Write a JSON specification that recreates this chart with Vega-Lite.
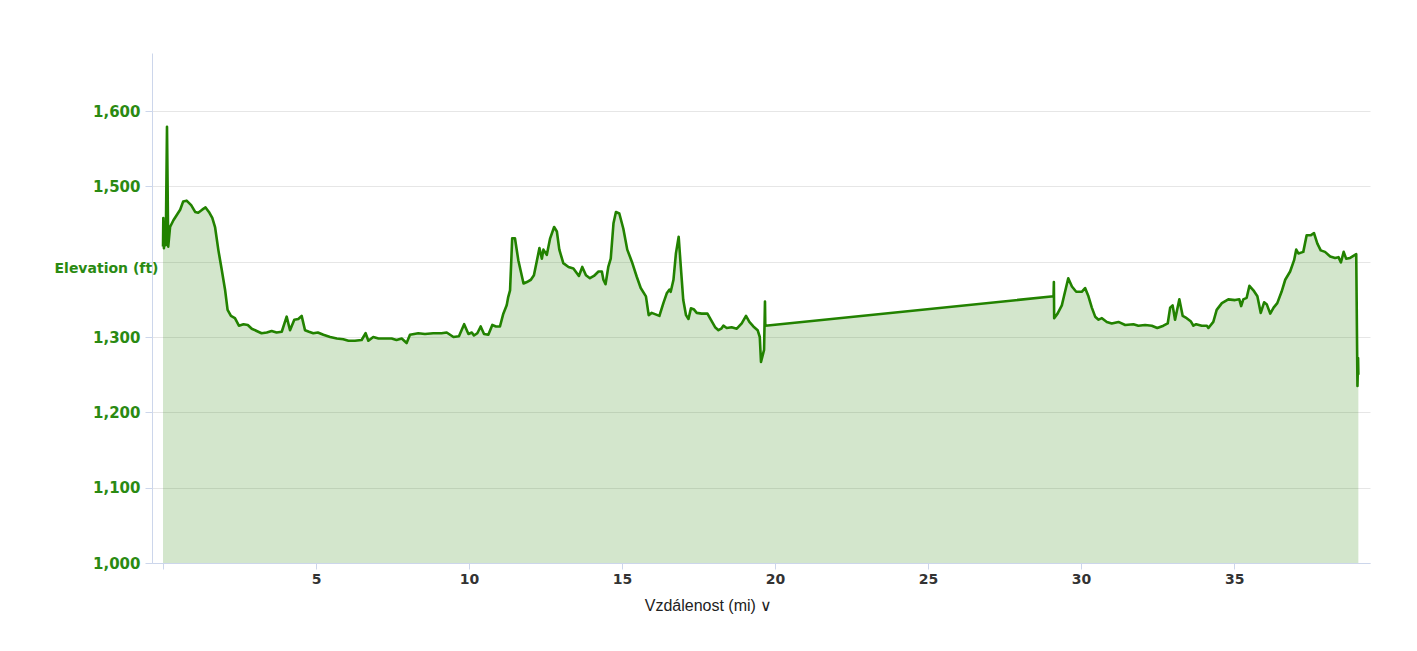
{
  "$schema": "https://vega.github.io/schema/vega-lite/v6.json",
  "description": "Elevation profile along the route.",
  "width": 1218,
  "height": 510,
  "autosize": {"type": "none"},
  "padding": {"left": 152, "top": 53, "right": 47, "bottom": 88},
  "data": {
    "values": [
      {"d": 0.00, "e": 1420}, {"d": 0.01, "e": 1458}, {"d": 0.03, "e": 1418}, {"d": 0.06, "e": 1449},
      {"d": 0.09, "e": 1422}, {"d": 0.13, "e": 1579}, {"d": 0.17, "e": 1420}, {"d": 0.23, "e": 1446},
      {"d": 0.34, "e": 1455}, {"d": 0.45, "e": 1462}, {"d": 0.56, "e": 1469}, {"d": 0.66, "e": 1480},
      {"d": 0.77, "e": 1481}, {"d": 0.92, "e": 1475}, {"d": 1.05, "e": 1466}, {"d": 1.15, "e": 1465},
      {"d": 1.28, "e": 1469}, {"d": 1.39, "e": 1472}, {"d": 1.50, "e": 1466}, {"d": 1.61, "e": 1458},
      {"d": 1.70, "e": 1446}, {"d": 1.81, "e": 1415}, {"d": 1.92, "e": 1389}, {"d": 2.03, "e": 1362},
      {"d": 2.11, "e": 1336}, {"d": 2.22, "e": 1328}, {"d": 2.35, "e": 1325}, {"d": 2.48, "e": 1315},
      {"d": 2.63, "e": 1317}, {"d": 2.77, "e": 1316}, {"d": 2.90, "e": 1311}, {"d": 3.06, "e": 1308},
      {"d": 3.22, "e": 1305}, {"d": 3.39, "e": 1306}, {"d": 3.55, "e": 1308}, {"d": 3.71, "e": 1306},
      {"d": 3.88, "e": 1307}, {"d": 4.04, "e": 1327}, {"d": 4.15, "e": 1309}, {"d": 4.29, "e": 1323},
      {"d": 4.42, "e": 1324}, {"d": 4.53, "e": 1328}, {"d": 4.64, "e": 1309}, {"d": 4.77, "e": 1307},
      {"d": 4.91, "e": 1305}, {"d": 5.06, "e": 1306}, {"d": 5.24, "e": 1303}, {"d": 5.46, "e": 1300},
      {"d": 5.68, "e": 1298}, {"d": 5.89, "e": 1297}, {"d": 6.06, "e": 1295}, {"d": 6.27, "e": 1295},
      {"d": 6.49, "e": 1296}, {"d": 6.62, "e": 1305}, {"d": 6.71, "e": 1295}, {"d": 6.87, "e": 1300},
      {"d": 7.04, "e": 1298}, {"d": 7.25, "e": 1298}, {"d": 7.47, "e": 1298}, {"d": 7.63, "e": 1296},
      {"d": 7.80, "e": 1298}, {"d": 7.96, "e": 1292}, {"d": 8.07, "e": 1303}, {"d": 8.34, "e": 1305},
      {"d": 8.56, "e": 1304}, {"d": 8.83, "e": 1305}, {"d": 9.10, "e": 1305}, {"d": 9.27, "e": 1306},
      {"d": 9.49, "e": 1300}, {"d": 9.67, "e": 1301}, {"d": 9.84, "e": 1317}, {"d": 9.98, "e": 1304},
      {"d": 10.09, "e": 1306}, {"d": 10.16, "e": 1302}, {"d": 10.27, "e": 1305}, {"d": 10.38, "e": 1314},
      {"d": 10.49, "e": 1304}, {"d": 10.63, "e": 1303}, {"d": 10.76, "e": 1316}, {"d": 10.88, "e": 1314},
      {"d": 11.01, "e": 1314}, {"d": 11.12, "e": 1331}, {"d": 11.23, "e": 1342}, {"d": 11.28, "e": 1353},
      {"d": 11.34, "e": 1362}, {"d": 11.41, "e": 1431}, {"d": 11.50, "e": 1431}, {"d": 11.61, "e": 1402},
      {"d": 11.78, "e": 1371}, {"d": 11.89, "e": 1373}, {"d": 12.02, "e": 1376}, {"d": 12.12, "e": 1382},
      {"d": 12.21, "e": 1400}, {"d": 12.30, "e": 1418}, {"d": 12.38, "e": 1404}, {"d": 12.43, "e": 1416},
      {"d": 12.54, "e": 1409}, {"d": 12.65, "e": 1431}, {"d": 12.78, "e": 1446}, {"d": 12.87, "e": 1440},
      {"d": 12.95, "e": 1416}, {"d": 13.08, "e": 1398}, {"d": 13.25, "e": 1393}, {"d": 13.41, "e": 1391},
      {"d": 13.59, "e": 1381}, {"d": 13.70, "e": 1393}, {"d": 13.82, "e": 1382}, {"d": 13.95, "e": 1378},
      {"d": 14.08, "e": 1381}, {"d": 14.23, "e": 1387}, {"d": 14.34, "e": 1387}, {"d": 14.39, "e": 1376},
      {"d": 14.46, "e": 1370}, {"d": 14.55, "e": 1393}, {"d": 14.63, "e": 1404}, {"d": 14.72, "e": 1451},
      {"d": 14.80, "e": 1466}, {"d": 14.91, "e": 1464}, {"d": 15.04, "e": 1444}, {"d": 15.17, "e": 1416},
      {"d": 15.32, "e": 1400}, {"d": 15.48, "e": 1380}, {"d": 15.61, "e": 1365}, {"d": 15.78, "e": 1354},
      {"d": 15.87, "e": 1329}, {"d": 15.97, "e": 1332}, {"d": 16.22, "e": 1328}, {"d": 16.35, "e": 1345},
      {"d": 16.46, "e": 1358}, {"d": 16.55, "e": 1363}, {"d": 16.59, "e": 1360}, {"d": 16.68, "e": 1376},
      {"d": 16.76, "e": 1411}, {"d": 16.85, "e": 1433}, {"d": 16.92, "e": 1393}, {"d": 17.00, "e": 1349},
      {"d": 17.09, "e": 1329}, {"d": 17.17, "e": 1324}, {"d": 17.25, "e": 1338}, {"d": 17.34, "e": 1337},
      {"d": 17.44, "e": 1332}, {"d": 17.60, "e": 1331}, {"d": 17.79, "e": 1331}, {"d": 17.90, "e": 1323},
      {"d": 18.04, "e": 1313}, {"d": 18.15, "e": 1309}, {"d": 18.24, "e": 1311}, {"d": 18.31, "e": 1315},
      {"d": 18.42, "e": 1312}, {"d": 18.58, "e": 1313}, {"d": 18.75, "e": 1311}, {"d": 18.91, "e": 1318},
      {"d": 19.05, "e": 1328}, {"d": 19.16, "e": 1320}, {"d": 19.29, "e": 1314}, {"d": 19.43, "e": 1309},
      {"d": 19.50, "e": 1300}, {"d": 19.54, "e": 1267}, {"d": 19.64, "e": 1283}, {"d": 19.67, "e": 1347},
      {"d": 19.68, "e": 1315}, {"d": 29.10, "e": 1354}, {"d": 29.11, "e": 1373}, {"d": 29.12, "e": 1325},
      {"d": 29.23, "e": 1331}, {"d": 29.37, "e": 1342}, {"d": 29.44, "e": 1354}, {"d": 29.58, "e": 1378},
      {"d": 29.70, "e": 1367}, {"d": 29.84, "e": 1360}, {"d": 30.02, "e": 1360}, {"d": 30.13, "e": 1365},
      {"d": 30.24, "e": 1354}, {"d": 30.35, "e": 1339}, {"d": 30.46, "e": 1327}, {"d": 30.57, "e": 1323},
      {"d": 30.68, "e": 1325}, {"d": 30.84, "e": 1320}, {"d": 31.00, "e": 1318}, {"d": 31.22, "e": 1320},
      {"d": 31.44, "e": 1316}, {"d": 31.71, "e": 1317}, {"d": 31.87, "e": 1315}, {"d": 32.09, "e": 1316},
      {"d": 32.31, "e": 1315}, {"d": 32.49, "e": 1312}, {"d": 32.69, "e": 1315}, {"d": 32.83, "e": 1318},
      {"d": 32.91, "e": 1339}, {"d": 32.99, "e": 1342}, {"d": 33.07, "e": 1323}, {"d": 33.21, "e": 1350},
      {"d": 33.32, "e": 1328}, {"d": 33.45, "e": 1325}, {"d": 33.58, "e": 1321}, {"d": 33.67, "e": 1315},
      {"d": 33.76, "e": 1317}, {"d": 33.94, "e": 1315}, {"d": 34.11, "e": 1315}, {"d": 34.16, "e": 1312},
      {"d": 34.32, "e": 1320}, {"d": 34.43, "e": 1336}, {"d": 34.60, "e": 1345}, {"d": 34.81, "e": 1350},
      {"d": 35.03, "e": 1349}, {"d": 35.17, "e": 1350}, {"d": 35.23, "e": 1341}, {"d": 35.30, "e": 1350},
      {"d": 35.41, "e": 1352}, {"d": 35.50, "e": 1368}, {"d": 35.63, "e": 1362}, {"d": 35.76, "e": 1354},
      {"d": 35.87, "e": 1332}, {"d": 35.98, "e": 1346}, {"d": 36.07, "e": 1343}, {"d": 36.18, "e": 1331},
      {"d": 36.29, "e": 1339}, {"d": 36.41, "e": 1345}, {"d": 36.55, "e": 1360}, {"d": 36.67, "e": 1376},
      {"d": 36.83, "e": 1387}, {"d": 36.96, "e": 1402}, {"d": 37.03, "e": 1416}, {"d": 37.10, "e": 1411},
      {"d": 37.26, "e": 1413}, {"d": 37.37, "e": 1435}, {"d": 37.50, "e": 1435}, {"d": 37.61, "e": 1438},
      {"d": 37.72, "e": 1424}, {"d": 37.83, "e": 1415}, {"d": 37.97, "e": 1413}, {"d": 38.14, "e": 1407},
      {"d": 38.30, "e": 1405}, {"d": 38.41, "e": 1406}, {"d": 38.49, "e": 1399}, {"d": 38.58, "e": 1413},
      {"d": 38.66, "e": 1404}, {"d": 38.79, "e": 1405}, {"d": 38.99, "e": 1410}, {"d": 39.03, "e": 1235},
      {"d": 39.05, "e": 1272}, {"d": 39.06, "e": 1250}
    ]
  },
  "encoding": {
    "x": {
      "field": "d",
      "type": "quantitative",
      "scale": {"domain": [-0.36, 39.44], "nice": false, "zero": false},
      "axis": {
        "values": [0, 5, 10, 15, 20, 25, 30, 35],
        "labelExpr": "datum.value == 0 ? '' : datum.label",
        "grid": false,
        "domainColor": "#ccd6eb",
        "tickColor": "#ccd6eb",
        "tickSize": 6,
        "labelPadding": 3,
        "labelFont": "DejaVu Sans",
        "labelFontWeight": "bold",
        "labelFontSize": 14,
        "labelColor": "#333333",
        "title": "Vzdálenost (mi)  ∨",
        "titleFont": "Liberation Sans",
        "titleFontWeight": "normal",
        "titleFontSize": 16,
        "titleColor": "#222222",
        "titleX": 556,
        "titleY": 42,
        "titleAlign": "center",
        "titleBaseline": "middle"
      }
    },
    "y": {
      "field": "e",
      "type": "quantitative",
      "scale": {"domain": [1000, 1677], "nice": false, "zero": false},
      "axis": {
        "values": [1000, 1100, 1200, 1300, 1400, 1500, 1600],
        "format": ",.0f",
        "labelExpr": "datum.value == 1400 ? '' : datum.label",
        "gridColor": "#e6e6e6",
        "domainColor": "#ccd6eb",
        "tickColor": "#ccd6eb",
        "tickSize": 7,
        "labelPadding": 5,
        "labelFont": "DejaVu Sans",
        "labelFontWeight": "bold",
        "labelFontSize": 15,
        "labelColor": "#2a8a12",
        "title": "Elevation (ft)",
        "titleAngle": 0,
        "titleX": -46,
        "titleY": 215,
        "titleAlign": "center",
        "titleBaseline": "middle",
        "titleFont": "DejaVu Sans",
        "titleFontWeight": "bold",
        "titleFontSize": 14,
        "titleColor": "#2a8a12"
      }
    }
  },
  "layer": [
    {
      "mark": {"type": "area", "color": "#228200", "fillOpacity": 0.2},
      "encoding": {"y2": {"datum": 1000}}
    },
    {
      "mark": {"type": "line", "color": "#228200", "strokeWidth": 2.6, "strokeJoin": "round"}
    }
  ],
  "config": {"view": {"stroke": null}}
}
